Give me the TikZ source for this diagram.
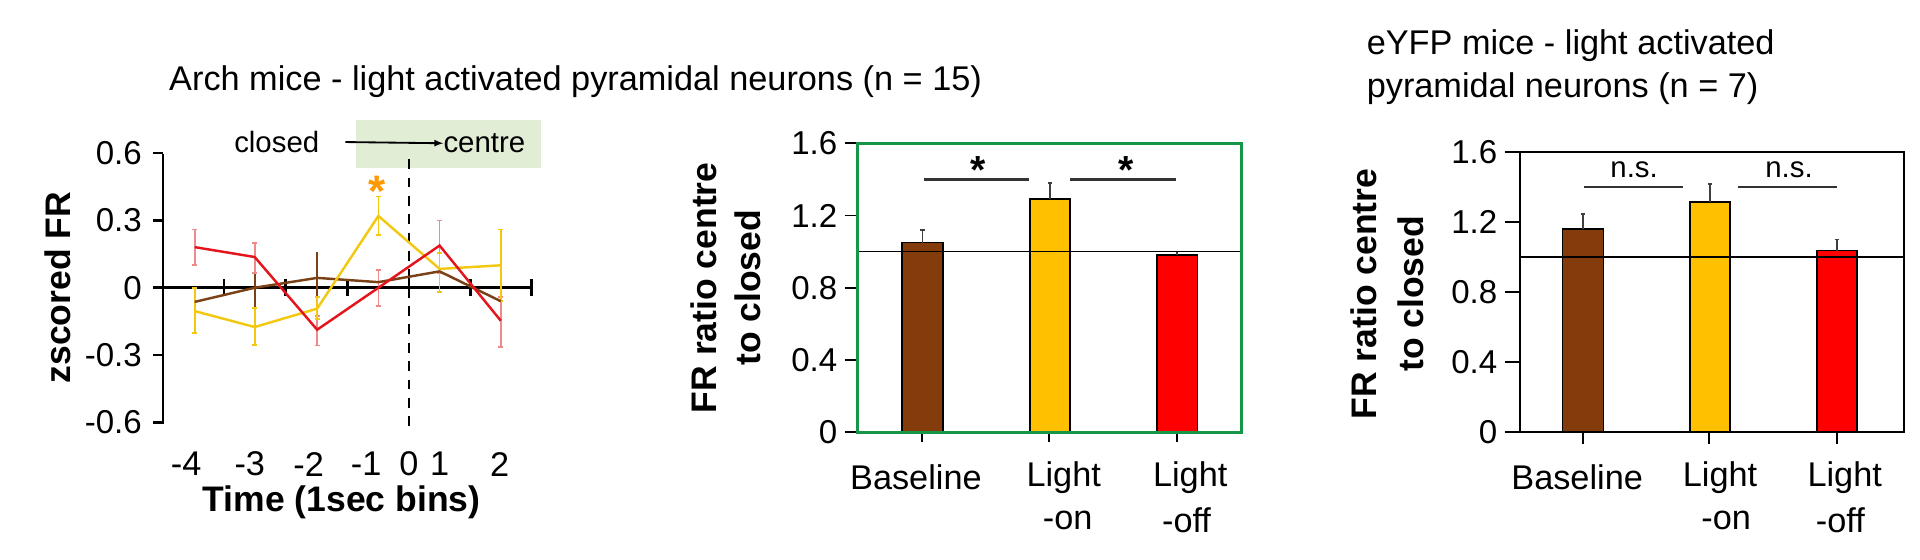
\documentclass[tikz,border=0pt]{standalone}
\usepackage{fontspec}
\setmainfont{Liberation Sans}
\begin{document}
\begin{tikzpicture}[x=1pt,y=-1pt,
  tl/.style={font=\fontsize{27}{27}\selectfont,anchor=east,inner sep=1pt},
  cat/.style={font=\fontsize{28}{28}\selectfont,inner sep=0pt},
  ttl/.style={font=\fontsize{28}{30}\selectfont,anchor=west,inner sep=0pt},
  axl/.style={font=\bfseries\fontsize{29}{31}\selectfont,rotate=90,inner sep=0pt},
  bar/.style={draw=black,line width=1.3pt},
  eb/.style={line width=1.4pt},
  ax/.style={line width=2.2pt,black}]
\useasboundingbox (0,0) rectangle (1568,457);
\definecolor{cbrown}{HTML}{843C0C}
\definecolor{cyel}{HTML}{FFC000}
\definecolor{lyel}{HTML}{F2C811}
\definecolor{lred}{HTML}{E3141B}
\definecolor{pred}{HTML}{EE8A8A}
\definecolor{lbrown}{HTML}{7A4016}
\definecolor{boxg}{HTML}{E2EDD6}
\definecolor{fg}{HTML}{17964A}
% ---------- titles
\node[ttl] (t1) at (138,67) {Arch mice - light activated pyramidal neurons (n = 15)};
\node[ttl] (t2) at (1116,37) {eYFP mice - light activated};
\node[ttl] (t3) at (1116,72) {pyramidal neurons (n = 7)};
% ---------- panel 1
\fill[boxg] (291,98) rectangle (442,137);
\node[font=\fontsize{24}{24}\selectfont,inner sep=0pt] (cl) at (226,116) {closed};
\node[font=\fontsize{24}{24}\selectfont,inner sep=0pt,anchor=west] (ce) at (362,117) {centre};
\coordinate (a0) at (282,116);
\draw[line width=1.5pt,-{latex}] (a0) -- (ce.west);
\draw[ax] (133,126) -- (133,346);
\foreach \v/\t in {0.6/0.6,0.3/0.3,0/0,-0.3/-0.3,-0.6/-0.6}{
  \draw[ax] (125,235-\v*183.3) -- (133,235-\v*183.3);
  \node[tl] (yl\t) at (117,235-\v*183.3) {\t};}
\draw[ax] (133,235) -- (434,235);
\foreach \x in {183,233,284,334,384,434}{\draw[ax] (\x,228) -- (\x,242);}
\draw[line width=1.5pt,dash pattern=on 8pt off 7pt] (334,130) -- (334,350);
\foreach \x/\t in {152/-4,204/-3,252/-2,299/-1,334/0,359/1,408/2}{
  \node[cat] (xl\t) at (\x,379) {\t};}
\node[font=\bfseries\fontsize{29}{29}\selectfont,inner sep=0pt] (xt) at (279,410) {Time (1sec bins)};
\node[axl] (yt) at (47,235) {zscored FR};
\def\Y#1{235-#1*183.3}
\foreach \x/\a/\b in {159/0/-0.14,208/0.1/-0.09,259/0.16/-0.066,309/0.08/-0.03,359/0.12/0.03,409/-0.02/-0.1}{
  \draw[lbrown,eb] (\x,{\Y{\a}}) -- (\x,{\Y{\b}});}
\foreach \x/\a/\b in {159/0.26/0.10,208/0.20/0.066,259/-0.125/-0.257,309/0.08/-0.08,359/0.30/0.066,409/-0.04/-0.265}{
  \draw[pred,eb] (\x,{\Y{\a}}) -- (\x,{\Y{\b}});
  \draw[pred,eb] (\x-2,{\Y{\a}}) -- (\x+2,{\Y{\a}});
  \draw[pred,eb] (\x-2,{\Y{\b}}) -- (\x+2,{\Y{\b}});}
\foreach \x/\a/\b in {159/0/-0.2,208/-0.09/-0.254,259/-0.04/-0.14,309/0.407/0.235,359/0.154/-0.02,409/0.26/-0.06}{
  \draw[lyel,eb] (\x,{\Y{\a}}) -- (\x,{\Y{\b}});
  \draw[lyel,eb] (\x-2,{\Y{\a}}) -- (\x+2,{\Y{\a}});
  \draw[lyel,eb] (\x-2,{\Y{\b}}) -- (\x+2,{\Y{\b}});}
\draw[lbrown,line width=2pt] (159,{\Y{-0.063}}) -- (208,{\Y{0}}) -- (259,{\Y{0.044}}) -- (309,{\Y{0.025}}) -- (359,{\Y{0.073}}) -- (409,{\Y{-0.06}});
\draw[lyel,line width=2pt] (159,{\Y{-0.104}}) -- (208,{\Y{-0.175}}) -- (259,{\Y{-0.093}}) -- (309,{\Y{0.32}}) -- (359,{\Y{0.084}}) -- (409,{\Y{0.10}});
\draw[lred,line width=2pt] (159,{\Y{0.181}}) -- (208,{\Y{0.137}}) -- (259,{\Y{-0.187}}) -- (309,{\Y{0}}) -- (359,{\Y{0.188}}) -- (409,{\Y{-0.147}});
\node[font=\bfseries\fontsize{36}{36}\selectfont,text=orange!80!yellow,inner sep=0pt] (st) at (308,156) {*};
% ---------- panel 2
\def\Q#1{353-#1*147.5}
\node[axl] (y2a) at (575,235) {FR ratio centre};
\node[axl] (y2b) at (611,235) {to closed};
\foreach \v in {0,0.4,0.8,1.2,1.6}{
  \draw[line width=1.5pt] (690,{\Q{\v}}) -- (700,{\Q{\v}});
  \node[tl] (p2l\v) at (685,{\Q{\v}}) {\v};}
\foreach \x in {752.8,857,960.9}{\draw[line width=1.5pt] (\x,353) -- (\x,361);}
\fill[cbrown] (736.7,353) rectangle (770,{\Q{1.05}});
\draw[bar] (736.7,353) rectangle (770,{\Q{1.05}});
\fill[cyel] (841,353) rectangle (873.7,{\Q{1.29}});
\draw[bar] (841,353) rectangle (873.7,{\Q{1.29}});
\fill[red] (944.8,353) rectangle (978,{\Q{0.98}});
\draw[bar] (944.8,353) rectangle (978,{\Q{0.98}});
\draw[black!75,line width=1.3pt] (753.3,{\Q{1.05}}) -- (753.3,{\Q{1.12}}) (751.5,{\Q{1.12}}) -- (755,{\Q{1.12}});
\draw[black!75,line width=1.3pt] (857.3,{\Q{1.29}}) -- (857.3,{\Q{1.38}}) (855.5,{\Q{1.38}}) -- (859,{\Q{1.38}});
\draw[black!75,line width=1.3pt] (961.4,{\Q{0.98}}) -- (961.4,{\Q{1.0}}) (959.5,{\Q{1.0}}) -- (963,{\Q{1.0}});
\draw[line width=0.9pt] (700,{\Q{1.0}}) -- (1013.7,{\Q{1.0}});
\draw[line width=2.6pt,fg] (700,{\Q{0}}) rectangle (1013.7,{\Q{1.6}});
\draw[black!80,line width=2pt] (754.4,{\Q{1.4}}) -- (840.3,{\Q{1.4}});
\draw[black!80,line width=2pt] (873.7,{\Q{1.4}}) -- (960.5,{\Q{1.4}});
\node[font=\bfseries\fontsize{32}{32}\selectfont,inner sep=0pt] (s1) at (798.5,{\Q{1.45}}) {*};
\node[font=\bfseries\fontsize{32}{32}\selectfont,inner sep=0pt] (s2) at (920,{\Q{1.45}}) {*};
\node[cat] (b2) at (748,390) {Baseline};
\node[cat] (l2) at (868.7,390) {Light};
\node[cat] (o2) at (872,425) {-on};
\node[cat] (m2) at (972,390) {Light};
\node[cat] (f2) at (969,425) {-off};
% ---------- panel 3
\def\R#1{353-#1*143.1}
\node[axl] (y3a) at (1114,240) {FR ratio centre};
\node[axl] (y3b) at (1152.5,240) {to closed};
\foreach \v in {0,0.4,0.8,1.2,1.6}{
  \draw[line width=1.5pt] (1229,{\R{\v}}) -- (1241,{\R{\v}});
  \node[tl] (p3l\v) at (1224,{\R{\v}}) {\v};}
\foreach \x in {1292.8,1396,1500.5}{\draw[line width=1.5pt] (\x,353) -- (\x,363);}
\fill[cbrown] (1276,353) rectangle (1309.5,{\R{1.16}});
\draw[bar] (1276,353) rectangle (1309.5,{\R{1.16}});
\fill[cyel] (1380,353) rectangle (1413,{\R{1.313}});
\draw[bar] (1380,353) rectangle (1413,{\R{1.313}});
\fill[red] (1484,353) rectangle (1516.6,{\R{1.037}});
\draw[bar] (1484,353) rectangle (1516.6,{\R{1.037}});
\draw[black!75,line width=1.3pt] (1292.8,{\R{1.16}}) -- (1292.8,{\R{1.246}}) (1291,{\R{1.246}}) -- (1294.6,{\R{1.246}});
\draw[black!75,line width=1.3pt] (1396.5,{\R{1.313}}) -- (1396.5,{\R{1.416}}) (1394.7,{\R{1.416}}) -- (1398.3,{\R{1.416}});
\draw[black!75,line width=1.3pt] (1500.3,{\R{1.037}}) -- (1500.3,{\R{1.10}}) (1498.5,{\R{1.10}}) -- (1502.1,{\R{1.10}});
\draw[line width=0.9pt] (1241,{\R{1.0}}) -- (1555,{\R{1.0}});
\draw[line width=1.5pt] (1241,{\R{0}}) rectangle (1555,{\R{1.6}});
\draw[black!80,line width=1.5pt] (1293.4,{\R{1.4}}) -- (1374.6,{\R{1.4}});
\draw[black!80,line width=1.5pt] (1419,{\R{1.4}}) -- (1500,{\R{1.4}});
\node[font=\fontsize{24}{24}\selectfont,inner sep=0pt] (n1) at (1334.5,{\R{1.5}}) {n.s.};
\node[font=\fontsize{24}{24}\selectfont,inner sep=0pt] (n2) at (1461,{\R{1.5}}) {n.s.};
\node[cat] (b3) at (1288,390) {Baseline};
\node[cat] (l3) at (1404.7,390) {Light};
\node[cat] (o3) at (1409.7,425) {-on};
\node[cat] (m3) at (1506.5,390) {Light};
\node[cat] (f3) at (1503,425) {-off};
\end{tikzpicture}
\end{document}
